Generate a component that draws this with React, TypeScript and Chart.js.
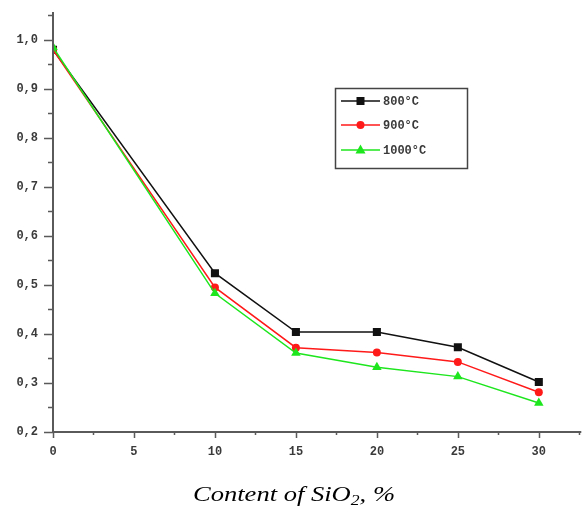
import React, { useEffect, useRef } from "react";
import { Chart, registerables } from "chart.js";

Chart.register(...registerables);

const xValues = [0, 10, 15, 20, 25, 30];
const series800 = [0.98, 0.524, 0.404, 0.404, 0.373, 0.302];
const series900 = [0.98, 0.495, 0.372, 0.362, 0.343, 0.281];
const series1000 = [0.985, 0.483, 0.361, 0.332, 0.313, 0.259];
const seriesLabels = ["800°C", "900°C", "1000°C"];
const xMajorTicks = [0, 5, 10, 15, 20, 25, 30];
const xMinorTicks = [2.5, 7.5, 12.5, 17.5, 22.5, 27.5, 32.5];
const yMajorTicks = [0.2, 0.3, 0.4, 0.5, 0.6, 0.7, 0.8, 0.9, 1.0];
const yMinorTicks = [0.25, 0.35, 0.45, 0.55, 0.65, 0.75, 0.85, 0.95, 1.05];
const xTitle = ["Content of SiO", "2", ", %"];

const W = 585;
const H = 508;
const AXIS_COLOR = "#5a5a5a";
const TICK_FONT = "bold 12px 'Liberation Mono', 'DejaVu Sans Mono', monospace";

const colors = ["#111111", "#ff1a1a", "#1ee61e"];
const styles = ["rect", "circle", "triangle"];

function drawMarker(ctx: CanvasRenderingContext2D, style: string, x: number, y: number, color: string) {
  ctx.save();
  ctx.fillStyle = color;
  ctx.beginPath();
  if (style === "rect") {
    ctx.rect(x - 4, y - 4, 8, 8);
  } else if (style === "circle") {
    ctx.arc(x, y, 4, 0, Math.PI * 2);
  } else {
    ctx.moveTo(x, y - 5.5);
    ctx.lineTo(x + 5, y + 3.5);
    ctx.lineTo(x - 5, y + 3.5);
    ctx.closePath();
  }
  ctx.fill();
  ctx.restore();
}

const axesPlugin = {
  id: "originAxes",
  afterDraw(chart: any) {
    const ctx: CanvasRenderingContext2D = chart.ctx;
    const xs = chart.scales.x;
    const ys = chart.scales.y;
    const area = chart.chartArea;
    ctx.save();
    ctx.strokeStyle = AXIS_COLOR;
    ctx.lineWidth = 2;
    ctx.beginPath();
    ctx.moveTo(area.left, area.top);
    ctx.lineTo(area.left, area.bottom);
    ctx.lineTo(area.right + 2, area.bottom);
    ctx.stroke();
    ctx.lineWidth = 1.5;
    ctx.beginPath();
    for (const v of yMajorTicks) {
      const p = Math.round(ys.getPixelForValue(v)) + 0.5;
      ctx.moveTo(area.left - 9, p);
      ctx.lineTo(area.left, p);
    }
    for (const v of yMinorTicks) {
      const p = Math.round(ys.getPixelForValue(v)) + 0.5;
      ctx.moveTo(area.left - 5, p);
      ctx.lineTo(area.left, p);
    }
    for (const v of xMajorTicks) {
      const p = Math.round(xs.getPixelForValue(v)) + 0.5;
      ctx.moveTo(p, area.bottom);
      ctx.lineTo(p, area.bottom + 6);
    }
    for (const v of xMinorTicks) {
      const p = Math.round(xs.getPixelForValue(v)) + 0.5;
      ctx.moveTo(p, area.bottom);
      ctx.lineTo(p, area.bottom + 3);
    }
    ctx.stroke();

    // legend
    const bx = 335.5, by = 88.5, bw = 132, bh = 80;
    ctx.strokeStyle = "#444";
    ctx.lineWidth = 1.5;
    ctx.strokeRect(bx, by, bw, bh);
    const rows = [101, 125, 150];
    ctx.font = TICK_FONT;
    ctx.textBaseline = "middle";
    ctx.textAlign = "left";
    seriesLabels.forEach((label, i) => {
      const y = rows[i];
      ctx.strokeStyle = colors[i];
      ctx.lineWidth = 1.5;
      ctx.beginPath();
      ctx.moveTo(341, y);
      ctx.lineTo(380, y);
      ctx.stroke();
      drawMarker(ctx, styles[i], 360.5, y, colors[i]);
      ctx.fillStyle = "#3a3a3a";
      ctx.fillText(label, 383, y + 1);
    });

    // x-axis title with subscript, stretched horizontally to match
    ctx.fillStyle = "#000";
    ctx.textBaseline = "alphabetic";
    const big = "italic 21px 'Liberation Serif', 'DejaVu Serif', serif";
    const small = "italic 14px 'Liberation Serif', 'DejaVu Serif', serif";
    ctx.font = big;
    const w1 = ctx.measureText(xTitle[0]).width;
    const w3 = ctx.measureText(xTitle[2]).width;
    ctx.font = small;
    const w2 = ctx.measureText(xTitle[1]).width;
    const total = w1 + w2 + w3;
    const targetW = 202;
    const sx = targetW / total;
    const base = 501;
    ctx.translate(193, base);
    ctx.scale(sx, 1);
    let tx = 0;
    ctx.font = big;
    ctx.fillText(xTitle[0], tx, 0);
    tx += w1;
    ctx.font = small;
    ctx.fillText(xTitle[1], tx, 4);
    tx += w2;
    ctx.font = big;
    ctx.fillText(xTitle[2], tx, 0);
    ctx.restore();
  },
};

export default function App() {
  const ref = useRef<HTMLCanvasElement | null>(null);
  useEffect(() => {
    document.body.style.margin = "0";
    const canvas = ref.current;
    if (!canvas) return;
    const mk = (i: number, data: number[], order: number) => ({
      label: seriesLabels[i],
      data: xValues.map((x, k) => ({ x, y: data[k] })),
      borderColor: colors[i],
      backgroundColor: colors[i],
      borderWidth: 1.5,
      pointStyle: styles[i],
      pointRadius: i === 0 ? 5.7 : i === 1 ? 4 : 5.5,
      pointBorderWidth: 0,
      tension: 0,
      order,
    });
    const chart = new Chart(canvas, {
      type: "line",
      data: {
        datasets: [mk(0, series800, 3), mk(1, series900, 2), mk(2, series1000, 1)],
      },
      options: {
        animation: false,
        responsive: false,
        devicePixelRatio: 1,
        layout: { padding: { top: 12, right: 5, bottom: 0, left: 0 } },
        plugins: { legend: { display: false }, tooltip: { enabled: false } },
        scales: {
          x: {
            type: "linear",
            min: 0,
            max: 32.5,
            grid: { display: false, drawTicks: false },
            border: { display: false },
            afterBuildTicks: (s: any) => {
              s.ticks = xMajorTicks.map((value) => ({ value }));
            },
            afterFit: (s: any) => {
              s.height = 76;
              s.paddingLeft = 0;
              s.paddingRight = 0;
            },
            ticks: {
              padding: 13,
              color: "#3a3a3a",
              font: { family: "'Liberation Mono', 'DejaVu Sans Mono', monospace", size: 12, weight: "bold" },
              maxRotation: 0,
              autoSkip: false,
              callback: (v: any) => String(v),
            },
          },
          y: {
            type: "linear",
            min: 0.2,
            max: 1.057,
            grid: { display: false, drawTicks: false },
            border: { display: false },
            afterBuildTicks: (s: any) => {
              s.ticks = yMajorTicks.map((value) => ({ value }));
            },
            afterFit: (s: any) => {
              s.width = 53;
              s.paddingTop = 0;
              s.paddingBottom = 0;
            },
            ticks: {
              padding: 15,
              color: "#3a3a3a",
              font: { family: "'Liberation Mono', 'DejaVu Sans Mono', monospace", size: 12, weight: "bold" },
              autoSkip: false,
              callback: (v: any) => Number(v).toFixed(1).replace(".", ","),
            },
          },
        },
      } as any,
      plugins: [axesPlugin],
    });
    return () => chart.destroy();
  }, []);
  return (
    <div style={{ width: W, height: H, background: "#fff" }}>
      <canvas ref={ref} width={W} height={H} style={{ display: "block" }} />
    </div>
  );
}
